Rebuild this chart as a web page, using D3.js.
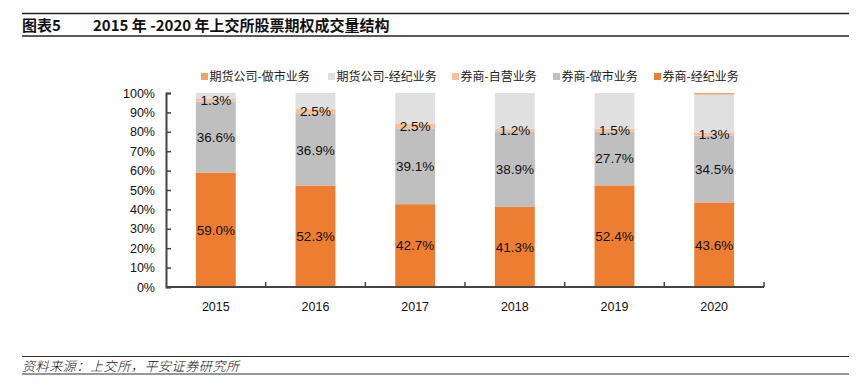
<!DOCTYPE html>
<html>
<head>
<meta charset="utf-8">
<script src="https://cdn.jsdelivr.net/npm/d3@7"></script>
<style>
  body { margin: 0; background: #fff; }
  svg { display: block; font-family: "Liberation Sans", Arial, "Noto Sans CJK SC", sans-serif; }
</style>
</head>
<body>
<svg id="chart" width="867" height="388"></svg>
<script>
// data
const years = ['2015', '2016', '2017', '2018', '2019', '2020'];
const brokerBrokerage = [59.0, 52.3, 42.7, 41.3, 52.4, 43.6];   // 券商-经纪业务
const brokerMarketMaking = [36.6, 36.9, 39.1, 38.9, 27.7, 34.5]; // 券商-做市业务
const brokerProprietary = [1.3, 2.5, 2.5, 1.2, 1.5, 1.3];       // 券商-自营业务
const futuresBrokerage = [3.1, 8.3, 15.7, 18.6, 18.4, 19.8];    // 期货公司-经纪业务
const futuresMarketMaking = [0, 0, 0, 0, 0, 0.8];               // 期货公司-做市业务
const yTicks = [0, 10, 20, 30, 40, 50, 60, 70, 80, 90, 100];

const series = [
  { key: 'bb', name: '券商-经纪业务', values: brokerBrokerage, color: '#ED7D31', label: true },
  { key: 'bm', name: '券商-做市业务', values: brokerMarketMaking, color: '#BFBFBF', label: true },
  { key: 'bp', name: '券商-自营业务', values: brokerProprietary, color: '#F8C09A', label: true },
  { key: 'fb', name: '期货公司-经纪业务', values: futuresBrokerage, color: '#E0E0E0', label: false },
  { key: 'fm', name: '期货公司-做市业务', values: futuresMarketMaking, color: '#F4A06A', label: false },
];
const legendOrder = ['fm', 'fb', 'bp', 'bm', 'bb'];

const svg = d3.select('#chart');
const cjk = '"Noto Sans CJK SC", sans-serif';

// title block
svg.append('line').attr('x1', 22).attr('x2', 849).attr('y1', 13.5).attr('y2', 13.5)
  .attr('stroke', '#222').attr('stroke-width', 1.5);
svg.append('line').attr('x1', 22).attr('x2', 849).attr('y1', 36).attr('y2', 36)
  .attr('stroke', '#222').attr('stroke-width', 1.5);
svg.append('text').attr('x', 22).attr('y', 30.5)
  .style('font-family', cjk).style('font-size', '15px').style('font-weight', 'bold').attr('fill', '#111')
  .text('图表5');
svg.append('text').attr('x', 93).attr('y', 30.5)
  .style('font-family', cjk).style('font-size', '15px').style('font-weight', 'bold').attr('fill', '#111')
  .text('2015 年 -2020 年上交所股票期权成交量结构');

// footer
svg.append('line').attr('x1', 22).attr('x2', 849).attr('y1', 356.5).attr('y2', 356.5)
  .attr('stroke', '#333').attr('stroke-width', 1.2);
svg.append('line').attr('x1', 22).attr('x2', 849).attr('y1', 374).attr('y2', 374)
  .attr('stroke', '#333').attr('stroke-width', 1.2);
svg.append('text').attr('x', 22).attr('y', 370.5)
  .style('font-family', cjk).style('font-size', '13px').style('font-style', 'italic')
  .style('font-weight', '300').style('letter-spacing', '0.6px').attr('fill', '#111')
  .text('资料来源：上交所，平安证券研究所');

// plot area
const plot = { left: 166, right: 764, top: 93, bottom: 287 };
const x = d3.scaleBand().domain(years).range([plot.left, plot.right]).paddingInner(0.6).paddingOuter(0.3);
const y = d3.scaleLinear().domain([0, 100]).range([plot.bottom, plot.top]);

const table = years.map((yr, i) => {
  const row = { year: yr };
  series.forEach(s => { row[s.key] = s.values[i]; });
  return row;
});
const stacked = d3.stack().keys(series.map(s => s.key))(table);

const g = svg.append('g');
stacked.forEach((layer, li) => {
  const s = series[li];
  g.append('g').selectAll('rect').data(layer).join('rect')
    .attr('x', d => x(d.data.year))
    .attr('width', x.bandwidth())
    .attr('y', d => y(d[1]))
    .attr('height', d => y(d[0]) - y(d[1]))
    .attr('fill', s.color);
});

// value labels
stacked.forEach((layer, li) => {
  const s = series[li];
  if (!s.label) return;
  g.append('g').selectAll('text').data(layer).join('text')
    .attr('x', d => x(d.data.year) + x.bandwidth() / 2)
    .attr('y', d => (y(d[0]) + y(d[1])) / 2)
    .attr('dy', '0.36em')
    .attr('text-anchor', 'middle')
    .style('font-size', '13.5px')
    .attr('fill', '#111')
    .text(d => (d[1] - d[0]).toFixed(1) + '%');
});

// y axis
const yAxis = d3.axisLeft(y).tickValues(yTicks).tickFormat(d => d + '%').tickSizeInner(-5).tickSizeOuter(-5).tickPadding(11);
const ya = svg.append('g').attr('transform', `translate(${plot.left},0)`).call(yAxis);
ya.select('.domain').attr('stroke', '#444').attr('stroke-width', 2);
ya.selectAll('.tick line').attr('stroke', '#444').attr('stroke-width', 1.5);
ya.selectAll('.tick text').style('font-size', '12.5px').attr('fill', '#111');

// x axis with boundary ticks
const xa = svg.append('g').attr('transform', `translate(0,${plot.bottom})`);
xa.append('line').attr('x1', plot.left).attr('x2', plot.right).attr('stroke', '#444').attr('stroke-width', 2);
const step = x.step();
const bounds = d3.range(1, years.length + 1).map(i => plot.left + i * step);
xa.selectAll('.bt').data(bounds).join('line').attr('class', 'bt')
  .attr('x1', d => d).attr('x2', d => d).attr('y1', 0).attr('y2', -5)
  .attr('stroke', '#444').attr('stroke-width', 1.5);
xa.selectAll('.xl').data(years).join('text').attr('class', 'xl')
  .attr('x', d => x(d) + x.bandwidth() / 2).attr('y', 24)
  .attr('text-anchor', 'middle').style('font-size', '12.5px').attr('fill', '#111')
  .text(d => d);

// legend
const legendX = [201, 328, 452, 553, 654];
const lg = svg.append('g');
legendOrder.forEach((k, i) => {
  const s = series.find(d => d.key === k);
  const item = lg.append('g').attr('transform', `translate(${legendX[i]},77)`);
  item.append('rect').attr('x', 0).attr('y', -4).attr('width', 7).attr('height', 7).attr('fill', s.color);
  item.append('text').attr('x', 8.5).attr('y', 0).attr('dy', '0.35em')
    .style('font-family', cjk).style('font-size', '12px').attr('fill', '#222')
    .text(s.name);
});
</script>
</body>
</html>
